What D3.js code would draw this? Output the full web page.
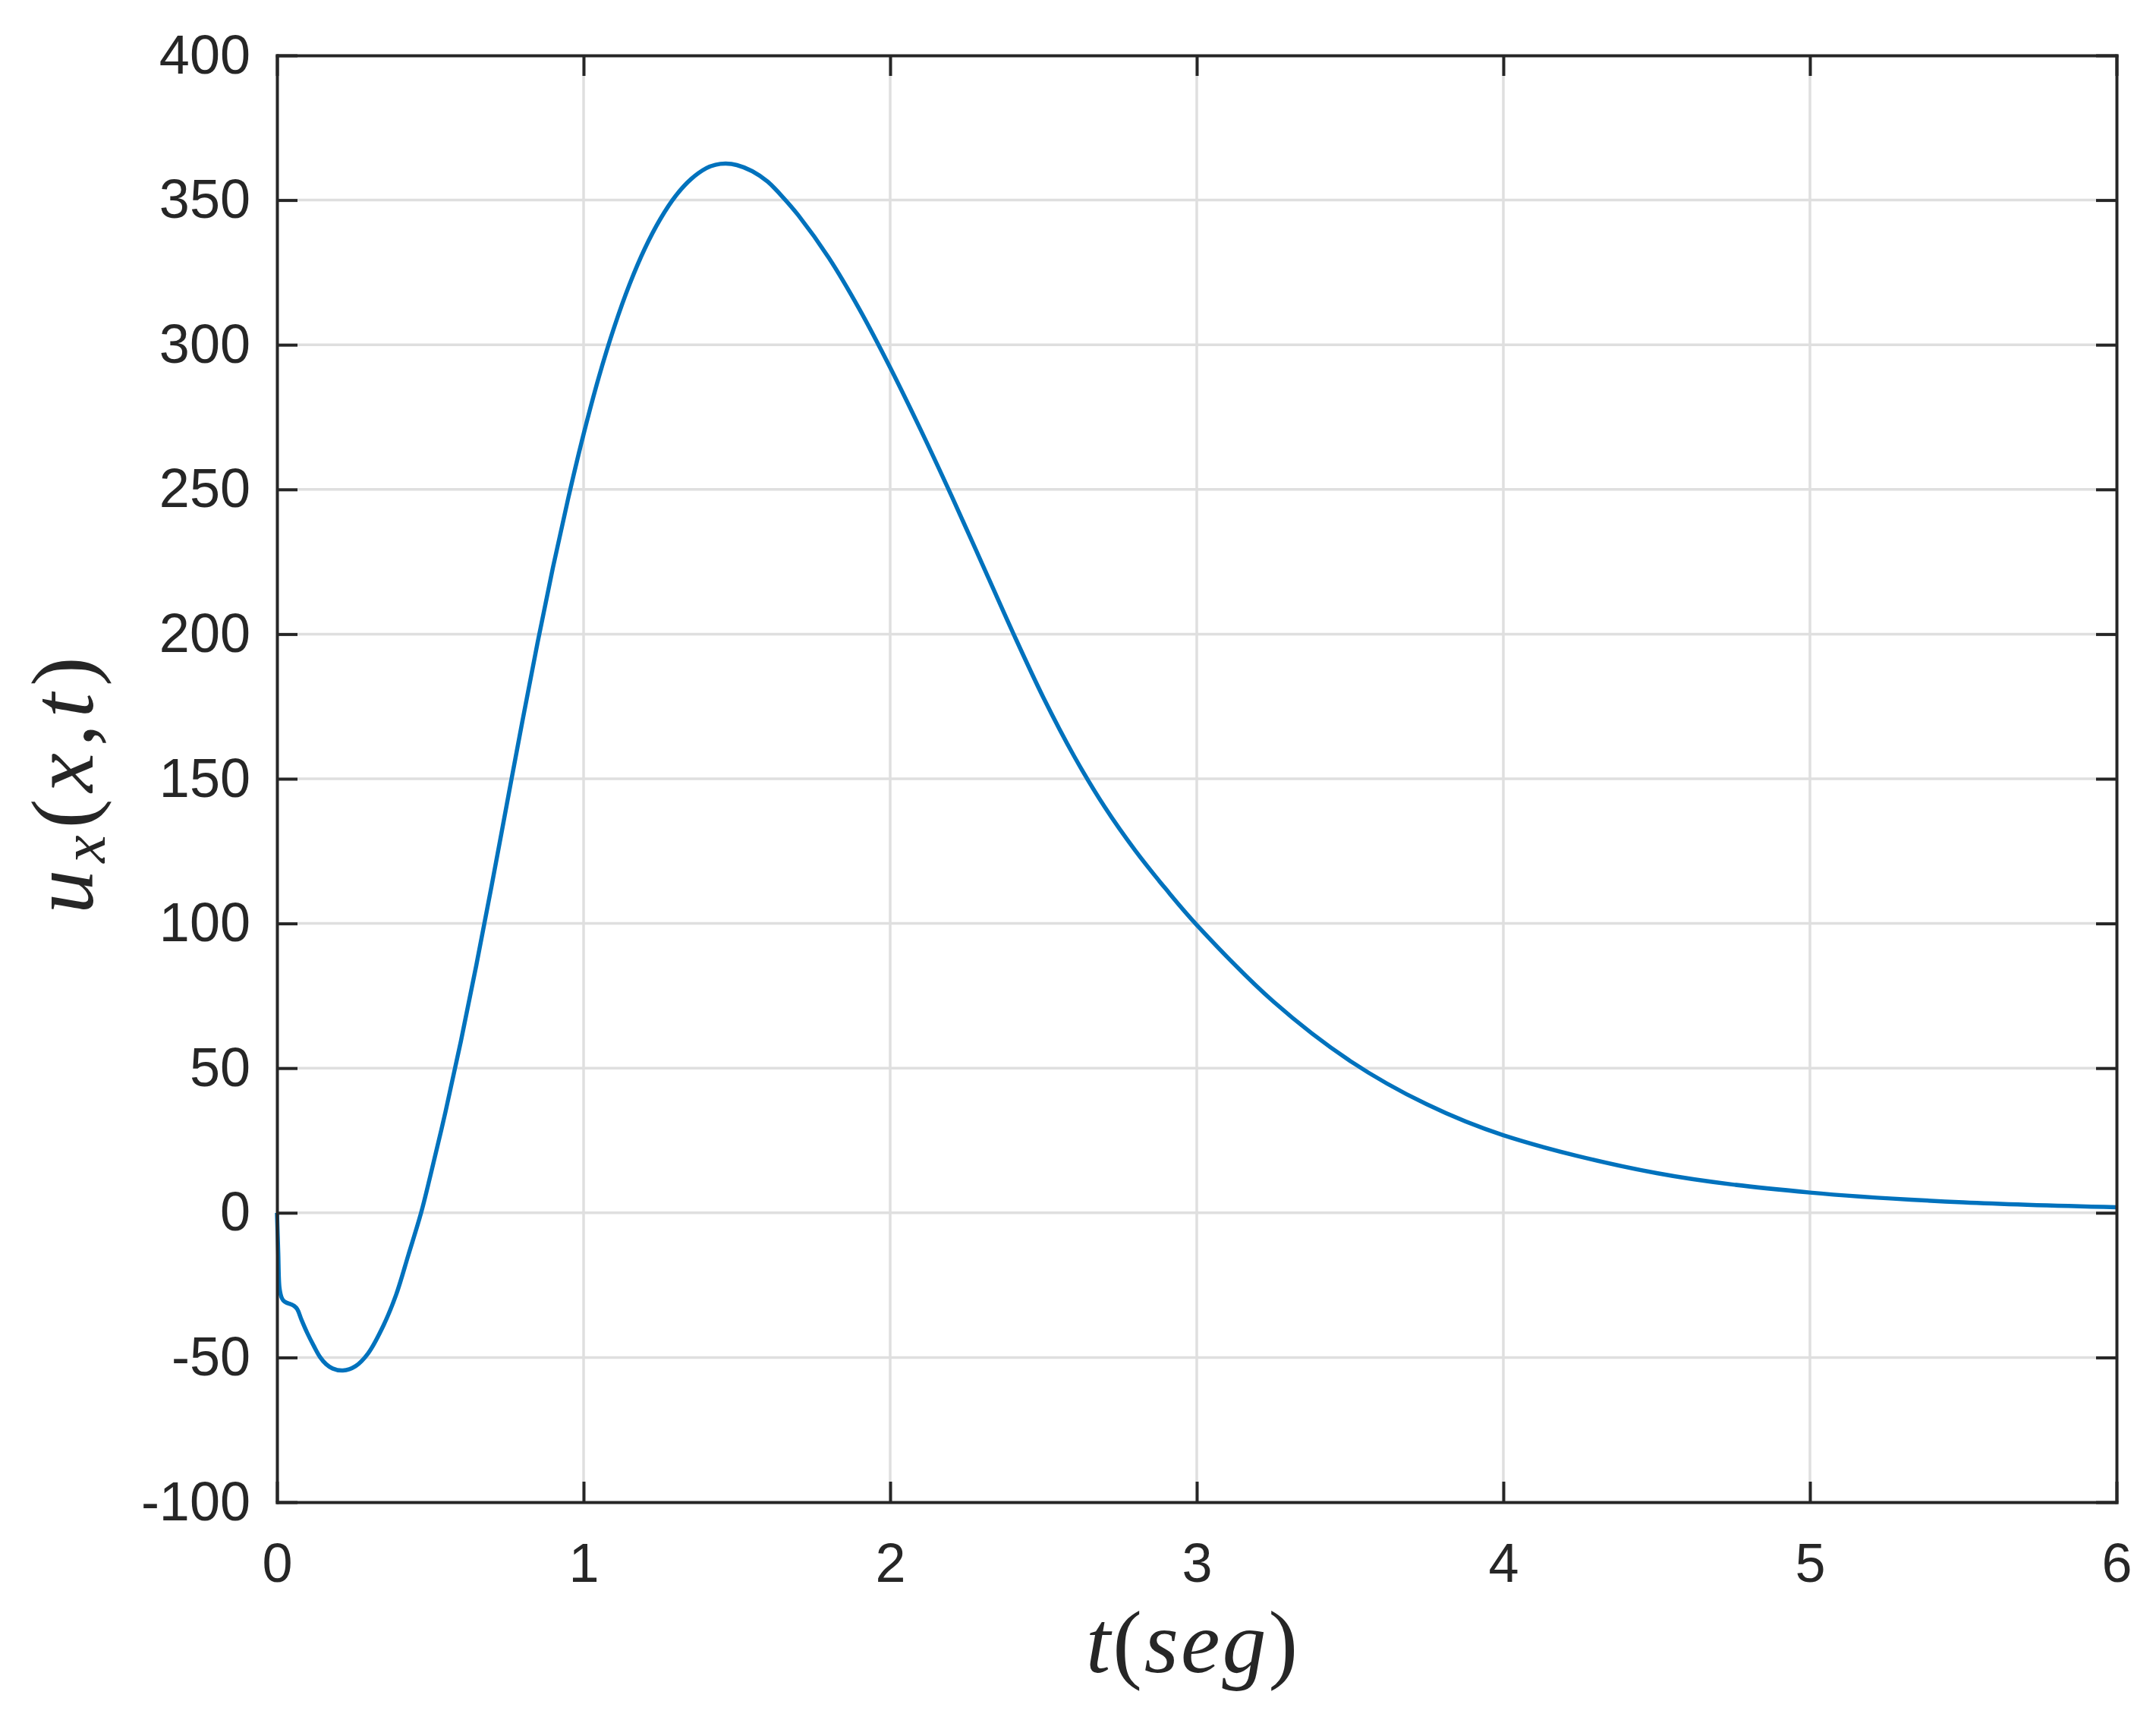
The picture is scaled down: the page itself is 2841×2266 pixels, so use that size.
<!DOCTYPE html>
<html>
<head>
<meta charset="utf-8">
<script src="https://cdn.jsdelivr.net/npm/d3@7"></script>
<style>
  body { margin: 0; background: #fff; }
  .axis text { font-family: "Liberation Sans", Arial, sans-serif; font-size: 72px; fill: #262626; }
  .axis path, .axis line { stroke: #262626; stroke-width: 4; }
  .lbl { font-family: "Liberation Serif", "Times New Roman", serif; fill: #262626; }
</style>
</head>
<body>
<script>
// time (s) and u_x values
var tVals = [0, 0.004, 0.008, 0.014, 0.02, 0.03, 0.045, 0.056, 0.066, 0.08, 0.099, 0.12, 0.14, 0.16, 0.181,
  0.215, 0.256, 0.297, 0.347, 0.388, 0.429, 0.47, 0.5, 0.55, 0.6, 0.65, 0.7, 0.75, 0.8, 0.85, 0.9, 0.95,
  1.0, 1.05, 1.1, 1.15, 1.2, 1.25, 1.3, 1.35, 1.4, 1.43, 1.464, 1.5, 1.55, 1.6, 1.65, 1.7, 1.8, 1.9, 2.0,
  2.1, 2.2, 2.3, 2.4, 2.5, 2.6, 2.7, 2.8, 2.9, 3.0, 3.25, 3.5, 3.75, 4.0, 4.5, 5.0, 5.5, 6.0];
var uVals = [0, -13.6, -25.8, -29, -30.2, -31, -31.6, -32.2, -33.3, -37, -41.6, -46, -49.8, -52.3, -53.8,
  -54.5, -53, -48.6, -39, -28.5, -14.4, 0, 12.7, 35.1, 59.4, 85.5, 113, 141.4, 169.7, 197.1, 223, 247,
  269.1, 288.9, 306.1, 320.9, 333.3, 343.4, 351.4, 357.2, 361, 362.2, 362.6, 362.1, 360, 356.4, 351, 344.8, 330, 312.2, 292.1,
  270.5, 247.8, 224.3, 200.6, 178, 157.8, 140.2, 125.1, 111.8, 99.5, 73, 52.5, 37.5, 26.8, 13.7, 7, 3.6, 1.9];
var xTicks = [0, 1, 2, 3, 4, 5, 6];
var yTicks = [-100, -50, 0, 50, 100, 150, 200, 250, 300, 350, 400];

var data = tVals.map(function(t, i) { return [t, uVals[i]]; });

var width = 2841, height = 2266;
var margin = {left: 365, right: 52, top: 73, bottom: 287};
var innerW = width - margin.left - margin.right;
var innerH = height - margin.top - margin.bottom;
var tick = 27;

var x = d3.scaleLinear().domain([0, 6]).range([0, innerW]);
var y = d3.scaleLinear().domain([-100, 400]).range([innerH, 0]);

var svg = d3.select("body").append("svg").attr("width", width).attr("height", height);
var chartGroup = svg.append("g").attr("transform", "translate(" + margin.left + "," + margin.top + ")");

// grid
chartGroup.append("g").selectAll("line").data(xTicks.slice(1, -1)).enter().append("line")
  .attr("x1", function(d) { return x(d); }).attr("x2", function(d) { return x(d); })
  .attr("y1", 0).attr("y2", innerH)
  .attr("stroke", "#dfdfdf").attr("stroke-width", 3.5);
chartGroup.append("g").selectAll("line").data(yTicks.slice(1, -1)).enter().append("line")
  .attr("y1", function(d) { return y(d); }).attr("y2", function(d) { return y(d); })
  .attr("x1", 0).attr("x2", innerW)
  .attr("stroke", "#dfdfdf").attr("stroke-width", 3.5);

// curve
var line = d3.line()
  .x(function(d) { return x(d[0]); })
  .y(function(d) { return y(d[1]); })
  .curve(d3.curveCatmullRom.alpha(0.5));
chartGroup.append("path").attr("d", line(data))
  .attr("fill", "none").attr("stroke", "#0072bd").attr("stroke-width", 5.5)
  .attr("stroke-linejoin", "round");

// box axes, ticks pointing inward
var fmt = function(d) { return String(d); };
chartGroup.append("g").attr("class", "axis").attr("transform", "translate(0," + innerH + ")")
  .call(d3.axisBottom(x).tickValues(xTicks).tickFormat(fmt).tickSizeInner(-tick).tickSizeOuter(0).tickPadding(54));
chartGroup.append("g").attr("class", "axis")
  .call(d3.axisLeft(y).tickValues(yTicks).tickFormat(fmt).tickSizeInner(-tick).tickSizeOuter(0).tickPadding(35));
chartGroup.append("g").attr("class", "axis")
  .call(d3.axisTop(x).tickValues(xTicks).tickFormat("").tickSizeInner(-tick).tickSizeOuter(0));
chartGroup.append("g").attr("class", "axis").attr("transform", "translate(" + innerW + ",0)")
  .call(d3.axisRight(y).tickValues(yTicks).tickFormat("").tickSizeInner(-tick).tickSizeOuter(0));
chartGroup.selectAll(".axis path").attr("stroke-linecap", "square");

// axis labels
var xl = svg.append("text").attr("class", "lbl")
  .attr("x", 1572).attr("y", 2203).attr("text-anchor", "middle")
  .attr("font-size", 116).attr("letter-spacing", 3);
xl.append("tspan").attr("font-style", "italic").text("t");
xl.append("tspan").text("(");
xl.append("tspan").attr("font-style", "italic").text("seg");
xl.append("tspan").text(")");

var yl = svg.append("text").attr("class", "lbl")
  .attr("transform", "translate(122,1030) rotate(-90)").attr("text-anchor", "middle")
  .attr("font-size", 116).attr("letter-spacing", 9);
yl.append("tspan").attr("font-style", "italic").text("u");
yl.append("tspan").attr("font-style", "italic").attr("font-size", 82).attr("dy", 16).text("x");
yl.append("tspan").attr("dy", -16).text("(");
yl.append("tspan").attr("font-style", "italic").text("x");
yl.append("tspan").text(",");
yl.append("tspan").attr("font-style", "italic").text("t");
yl.append("tspan").text(")");
</script>
</body>
</html>
